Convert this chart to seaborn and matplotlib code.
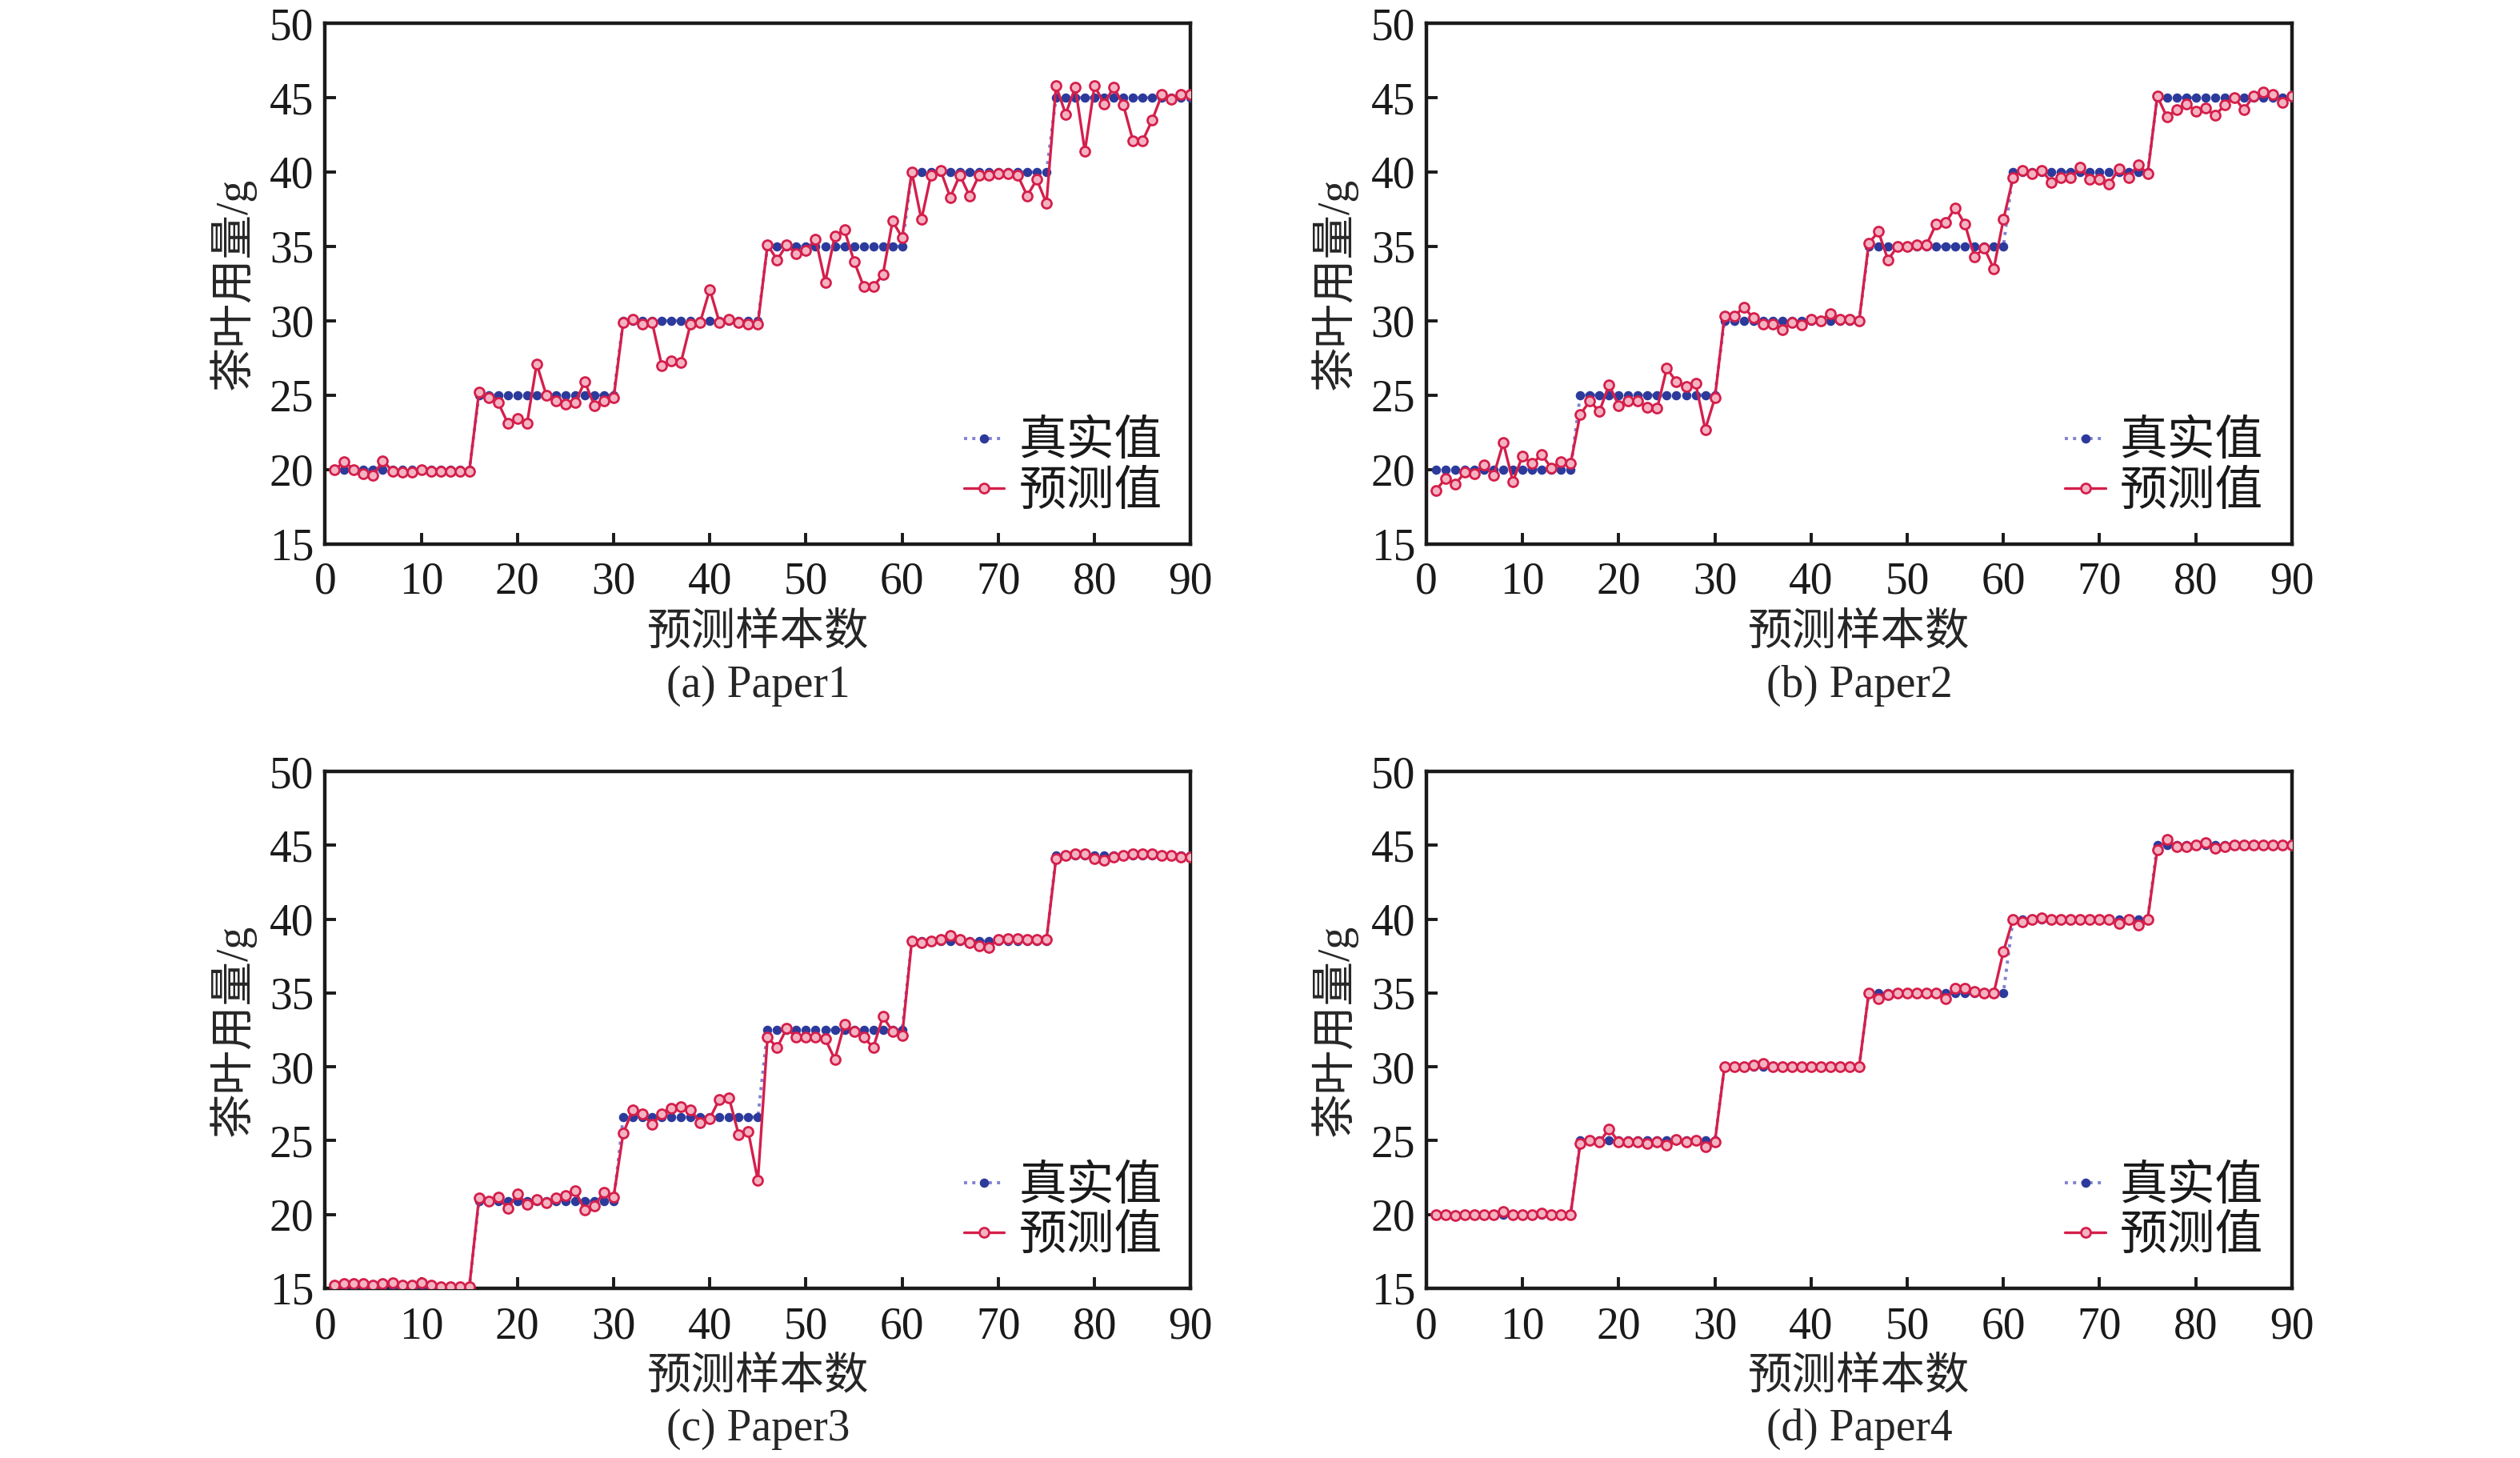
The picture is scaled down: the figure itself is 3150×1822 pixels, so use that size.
import numpy as np
import matplotlib
matplotlib.use('Agg')
import matplotlib.pyplot as plt
import seaborn as sns


#############################################################
#                         DADOS                             #
#############################################################

# indice das amostras de previsao
amostras = list(range(1, 91))

# Paper1
real_p1 = [20.0] * 15 + [25.0] * 15 + [30.0] * 15 + [35.0] * 15 + [40.0] * 15 + [45.0] * 15
prev_p1 = [
    20.0, 20.5, 20.0, 19.7, 19.6, 20.6, 19.9, 19.8, 19.8, 20.0, 19.9, 19.9, 19.9, 19.9, 19.9,
    25.2, 24.8, 24.5, 23.1, 23.4, 23.1, 27.1, 25.0, 24.6, 24.4, 24.5, 25.9, 24.3, 24.6, 24.8,
    29.9, 30.1, 29.8, 29.9, 27.0, 27.3, 27.2, 29.8, 29.9, 32.1, 29.9, 30.1, 29.9, 29.8, 29.8,
    35.1, 34.1, 35.1, 34.5, 34.7, 35.5, 32.6, 35.7, 36.1, 34.0, 32.3, 32.3, 33.1, 36.7, 35.6,
    40.0, 36.8, 39.8, 40.1, 38.3, 39.8, 38.4, 39.8, 39.8, 39.9, 39.9, 39.8, 38.4, 39.5, 37.9,
    45.8, 43.9, 45.7, 41.4, 45.8, 44.6, 45.7, 44.5, 42.1, 42.1, 43.5, 45.2, 44.9, 45.2, 45.2,
]

# Paper2
real_p2 = [20.0] * 15 + [25.0] * 15 + [30.0] * 15 + [35.0] * 15 + [40.0] * 15 + [45.0] * 15
prev_p2 = [
    18.6, 19.4, 19.0, 19.8, 19.7, 20.3, 19.6, 21.8, 19.2, 20.9, 20.4, 21.0, 20.1, 20.5, 20.4,
    23.7, 24.6, 23.9, 25.7, 24.3, 24.6, 24.6, 24.2, 24.1, 26.8, 25.9, 25.6, 25.8, 22.7, 24.8,
    30.3, 30.3, 30.9, 30.2, 29.8, 29.8, 29.4, 29.9, 29.7, 30.1, 30.0, 30.5, 30.1, 30.1, 30.0,
    35.2, 36.0, 34.1, 35.0, 35.0, 35.1, 35.1, 36.5, 36.6, 37.6, 36.5, 34.3, 34.9, 33.5, 36.8,
    39.6, 40.1, 39.9, 40.1, 39.3, 39.6, 39.6, 40.3, 39.5, 39.5, 39.2, 40.2, 39.6, 40.5, 39.9,
    45.1, 43.7, 44.2, 44.6, 44.1, 44.3, 43.8, 44.5, 45.0, 44.2, 45.1, 45.4, 45.2, 44.7, 45.1,
]

# Paper3
real_p3 = [15.1] * 15 + [20.9] * 15 + [26.6] * 15 + [32.5] * 15 + [38.5] * 15 + [44.3] * 15
prev_p3 = [
    15.2, 15.3, 15.3, 15.3, 15.2, 15.3, 15.4, 15.2, 15.2, 15.4, 15.2, 15.1, 15.1, 15.1, 15.1,
    21.1, 20.9, 21.2, 20.4, 21.4, 20.7, 21.0, 20.8, 21.1, 21.3, 21.6, 20.3, 20.6, 21.5, 21.2,
    25.5, 27.1, 26.8, 26.1, 26.8, 27.2, 27.3, 27.1, 26.2, 26.5, 27.8, 27.9, 25.4, 25.6, 22.3,
    32.0, 31.3, 32.6, 32.0, 32.0, 32.0, 31.9, 30.5, 32.9, 32.4, 32.0, 31.3, 33.4, 32.4, 32.1,
    38.5, 38.4, 38.5, 38.6, 38.9, 38.6, 38.4, 38.2, 38.1, 38.6, 38.7, 38.7, 38.6, 38.6, 38.6,
    44.1, 44.3, 44.4, 44.4, 44.1, 44.0, 44.2, 44.3, 44.4, 44.4, 44.4, 44.3, 44.3, 44.2, 44.2,
]

# Paper4
real_p4 = [20.0] * 15 + [25.0] * 15 + [30.0] * 15 + [35.0] * 15 + [40.0] * 15 + [45.0] * 15
prev_p4 = [
    20.0, 20.0, 19.9, 20.0, 20.0, 20.0, 20.0, 20.2, 20.0, 20.0, 20.0, 20.1, 20.0, 20.0, 20.0,
    24.8, 25.0, 24.9, 25.8, 24.9, 24.9, 24.9, 24.8, 24.9, 24.7, 25.1, 24.9, 25.0, 24.6, 24.9,
    30.0, 30.0, 30.0, 30.1, 30.2, 30.0, 30.0, 30.0, 30.0, 30.0, 30.0, 30.0, 30.0, 30.0, 30.0,
    35.0, 34.6, 34.9, 35.0, 35.0, 35.0, 35.0, 35.0, 34.6, 35.3, 35.3, 35.1, 35.0, 35.0, 37.8,
    40.0, 39.8, 40.0, 40.1, 40.0, 40.0, 40.0, 40.0, 40.0, 40.0, 40.0, 39.7, 40.0, 39.6, 40.0,
    44.7, 45.4, 44.9, 44.9, 45.0, 45.2, 44.8, 44.9, 45.0, 45.0, 45.0, 45.0, 45.0, 45.0, 45.0,
]

legendas = ['(a) Paper1', '(b) Paper2', '(c) Paper3', '(d) Paper4']
x_ticks = [0, 10, 20, 30, 40, 50, 60, 70, 80, 90]
y_ticks = [15, 20, 25, 30, 35, 40, 45, 50]


#############################################################
#                       ESTILO                              #
#############################################################

sns.set_theme(style='ticks')
plt.rcParams['font.family'] = ['Liberation Serif', 'Noto Sans CJK SC']
plt.rcParams['axes.unicode_minus'] = False


def desenha_painel(ax, real, prev, titulo):
    """Desenha um painel com o valor real e o valor previsto."""
    sns.lineplot(x=amostras, y=real, ax=ax, color='#8082d2', linestyle=':',
                 linewidth=1.4, marker='o', markersize=3.4,
                 markerfacecolor='#2c3a9c', markeredgecolor='#2c3a9c',
                 label='真实值', zorder=3)
    sns.lineplot(x=amostras, y=prev, ax=ax, color='#d41f4b', linestyle='-',
                 linewidth=1.2, marker='o', markersize=4.3,
                 markerfacecolor='#f4b3c2', markeredgecolor='#d41f4b',
                 markeredgewidth=1.0, label='预测值', zorder=4)

    ax.set_xlim(0, 90)
    ax.set_ylim(15, 50)
    ax.set_xticks(x_ticks)
    ax.set_yticks(y_ticks)
    ax.tick_params(direction='in', length=5, width=1.4, labelsize=20,
                   colors='#1a1a1a', top=False, right=False)
    ax.tick_params(axis='x', pad=8)
    ax.tick_params(axis='y', pad=5)
    for lado in ax.spines.values():
        lado.set_linewidth(1.6)
        lado.set_color('#1a1a1a')

    ax.set_xlabel('预测样本数', fontsize=20, labelpad=4)
    ax.set_ylabel('茶叶用量/g', fontsize=20, labelpad=6)
    ax.text(0.5, -0.272, titulo, transform=ax.transAxes, ha='center',
            va='center', fontsize=20)

    leg = ax.legend(loc='lower right', bbox_to_anchor=(1.0, 0.0),
                    frameon=False, fontsize=21.5, handlelength=0.85,
                    handletextpad=0.3, labelspacing=0.12, borderaxespad=0.2)
    for txt in leg.get_texts():
        txt.set_color('#1a1a1a')


fig = plt.figure(figsize=(15.75, 9.11), dpi=200)
posicoes = [
    [0.129, 0.627, 0.3435, 0.357],
    [0.566, 0.627, 0.3435, 0.357],
    [0.129, 0.1164, 0.3435, 0.3545],
    [0.566, 0.1164, 0.3435, 0.3545],
]
dados = [(real_p1, prev_p1), (real_p2, prev_p2), (real_p3, prev_p3), (real_p4, prev_p4)]

for pos, (real, prev), titulo in zip(posicoes, dados, legendas):
    ax = fig.add_axes(pos)
    desenha_painel(ax, real, prev, titulo)

fig.savefig('out.png', dpi=200, facecolor='white')
